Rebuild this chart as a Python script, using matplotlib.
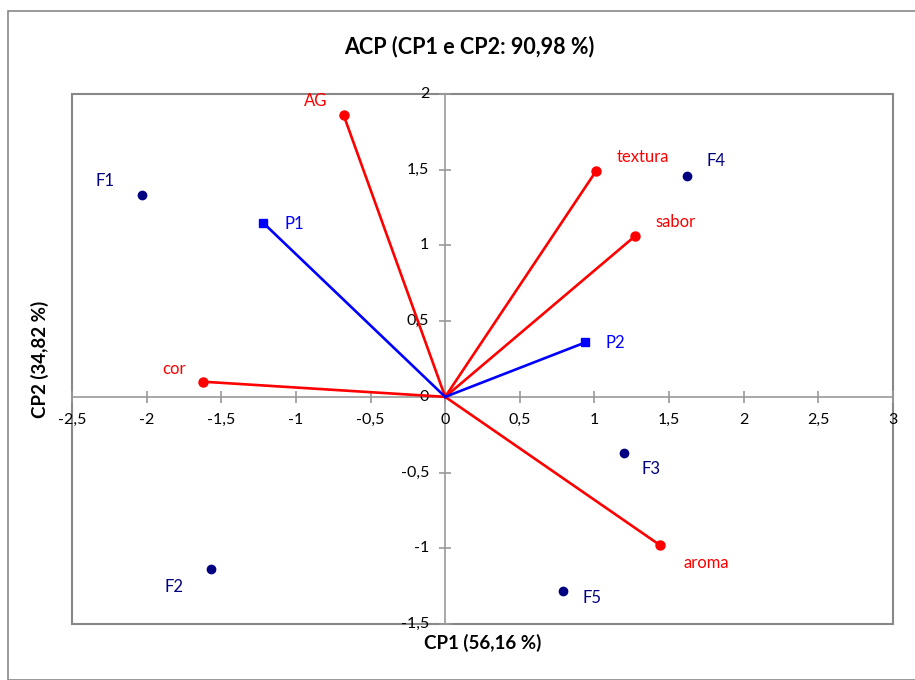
import matplotlib
matplotlib.use("Agg")
import matplotlib.pyplot as plt
from matplotlib.patches import Rectangle

plt.rcParams['font.family'] = ['Lato', 'DejaVu Sans']

# Observations (F)
obs_names = ["F1", "F2", "F3", "F4", "F5"]
obs_x = [-2.03, -1.57, 1.20, 1.62, 0.79]
obs_y = [1.33, -1.14, -0.37, 1.46, -1.28]

# Supplementary (P)
sup_names = ["P1", "P2"]
sup_x = [-1.22, 0.94]
sup_y = [1.15, 0.36]

# Variables
var_names = ["AG", "textura", "sabor", "cor", "aroma"]
var_x = [-0.68, 1.01, 1.27, -1.62, 1.44]
var_y = [1.86, 1.49, 1.06, 0.10, -0.98]

xticks = [-2.5, -2, -1.5, -1, -0.5, 0, 0.5, 1, 1.5, 2, 2.5, 3]
yticks = [-1.5, -1, -0.5, 0, 0.5, 1, 1.5, 2]

def fmt(v):
    s = ("%g" % v).replace(".", ",")
    return s

W, H = 915, 680
fig = plt.figure(figsize=(W / 100, H / 100), dpi=100)
fig.patches.append(Rectangle((8 / W, 0), 1, 1 - 11 / H, transform=fig.transFigure,
                             fill=False, edgecolor="#888888", linewidth=1.2))

ax = fig.add_axes([72 / W, 1 - 624 / H, (893 - 72) / W, (624 - 94) / H])
ax.set_xlim(-2.5, 3)
ax.set_ylim(-1.5, 2)

for s in ["top", "right"]:
    ax.spines[s].set_visible(False)
ax.spines["left"].set_position(("data", 0))
ax.spines["bottom"].set_position(("data", 0))
for s in ["left", "bottom"]:
    ax.spines[s].set_color("#999999")
    ax.spines[s].set_linewidth(1.2)
ax.add_patch(Rectangle((0, 0), 1, 1, transform=ax.transAxes, fill=False,
                       edgecolor="#888888", linewidth=1.5, zorder=0.5, clip_on=False))

ax.set_xticks(xticks)
ax.set_yticks(yticks)
ax.tick_params(axis="both", direction="inout", length=8, width=1.2, color="#999999",
               labelbottom=False, labelleft=False)

for v in xticks:
    ax.annotate(fmt(v), (v, 0), xytext=(0, -23), textcoords="offset pixels",
                ha="center", va="center", fontsize=11.5, color="black",
                annotation_clip=False)
for v in yticks:
    ax.annotate(fmt(v), (0, v), xytext=(-16, 0), textcoords="offset pixels",
                ha="right", va="center", fontsize=11.5, color="black",
                annotation_clip=False)

# Variable vectors
for n, x, y in zip(var_names, var_x, var_y):
    ax.plot([0, x], [0, y], color="#FF0000", linewidth=1.9, zorder=3)
ax.plot(var_x, var_y, "o", color="#FF0000", markersize=6.5, linestyle="none", zorder=4)

# Supplementary vectors
for n, x, y in zip(sup_names, sup_x, sup_y):
    ax.plot([0, x], [0, y], color="#0000FF", linewidth=1.9, zorder=3)
ax.plot(sup_x, sup_y, "s", color="#0000FF", markersize=6, linestyle="none", zorder=4)

# Observations
ax.plot(obs_x, obs_y, "o", color="#000080", markersize=6, linestyle="none", zorder=4)

obs_off = {"F1": (-37, 14), "F2": (-37, -18), "F3": (27, -16), "F4": (29, 15), "F5": (29, -7)}
for n, x, y in zip(obs_names, obs_x, obs_y):
    ax.annotate(n, (x, y), xytext=obs_off[n], textcoords="offset pixels",
                ha="center", va="center", color="#000080", fontsize=12)

sup_off = {"P1": (31, -1), "P2": (30, -1)}
for n, x, y in zip(sup_names, sup_x, sup_y):
    ax.annotate(n, (x, y), xytext=sup_off[n], textcoords="offset pixels",
                ha="center", va="center", color="#0000FF", fontsize=12)

var_off = {"AG": (-28, 14), "textura": (47, 14), "sabor": (41, 14), "cor": (-29, 13), "aroma": (46, -18)}
for n, x, y in zip(var_names, var_x, var_y):
    ax.annotate(n, (x, y), xytext=var_off[n], textcoords="offset pixels",
                ha="center", va="center", color="#FF0000", fontsize=12)

fig.text(469 / W, 1 - 47 / H, "ACP (CP1 e CP2: 90,98 %)", ha="center", va="center",
         fontsize=15.5, fontweight="bold")
fig.text(483 / W, 1 - 643 / H, "CP1 (56,16 %)", ha="center", va="center",
         fontsize=13.5, fontweight="bold")
fig.text(40 / W, 1 - 359 / H, "CP2 (34,82 %)", ha="center", va="center",
         fontsize=13.5, fontweight="bold", rotation=90)

fig.savefig("out.png", dpi=100)
